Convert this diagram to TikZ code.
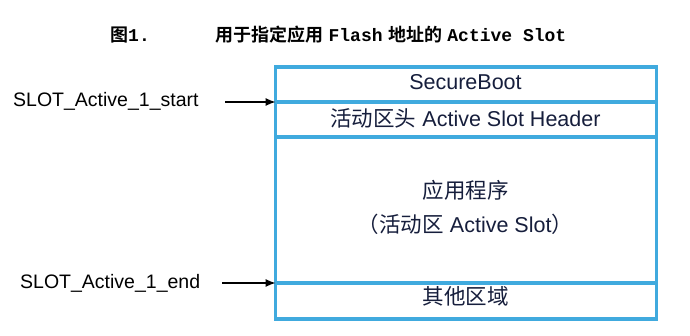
\documentclass[tikz,border=0pt]{standalone}
\usepackage{fontspec}
\setmainfont{Liberation Sans}
\newfontfamily\cjk{Noto Sans CJK SC}
\newfontfamily\cjkb{Noto Sans CJK SC}[BoldFont={* Bold}]
\newfontfamily\monob{Liberation Mono}
\usetikzlibrary{arrows.meta}
\definecolor{boxblue}{RGB}{64,170,222}
\definecolor{txtnavy}{RGB}{22,30,60}
\tikzset{
  part/.style={draw=boxblue, line width=3.2pt, minimum width=381pt, inner sep=0pt, outer sep=0pt, anchor=north west},
  boxtxt/.style={text=txtnavy, anchor=base, inner sep=0pt, font=\fontsize{21.5}{25}\selectfont},
  lbl/.style={anchor=base west, inner sep=0pt, font=\fontsize{19.5}{23}\selectfont},
  ptr/.style={-{Latex[length=10pt,width=8pt]}, line width=1.1pt},
  ttl/.style={anchor=base west, inner sep=0pt, font=\fontsize{18}{21}\selectfont\bfseries}
}
\begin{document}
\begin{tikzpicture}[x=1pt,y=-1pt]
\useasboundingbox (0,0) rectangle (690,336);
% title
\node[ttl] (t1) at (110,42) {\cjkb\bfseries 图\monob\bfseries 1.};
\node[ttl] (t2) at (215,42) {\cjkb\bfseries 用于指定应用\hspace{0.3em}\monob\bfseries Flash\hspace{0.3em}\cjkb\bfseries 地址的\hspace{0.3em}\monob\bfseries Active Slot};
% boxes
\node[part, minimum height=35pt] (secure) at (275.5,67) {};
\node[part, minimum height=35pt] (header) at (275.5,102) {};
\node[part, minimum height=146pt] (app) at (275.5,137) {};
\node[part, minimum height=36pt] (other) at (275.5,283) {};
% box texts
\node[boxtxt] (tsec) at (465.5,90) {SecureBoot};
\node[boxtxt] (thdr) at (465.5,126.5) {{\cjk 活动区头} Active Slot Header};
\node[boxtxt] (tapp1) at (465.5,199) {\cjk 应用程序};
\node[boxtxt] (tapp2) at (465.5,233) {{\cjk （活动区} Active Slot{\cjk ）}};
\node[boxtxt] (toth) at (465.5,305) {\cjk 其他区域};
% labels
\node[lbl] (ls) at (13,107) {SLOT\_Active\_1\_start};
\node[lbl] (le) at (20,288.5) {SLOT\_Active\_1\_end};
\coordinate (as) at (225,102);
\coordinate (ae) at (222,283);
\draw[ptr] (as) -- (secure.south west);
\draw[ptr] (ae) -- (other.north west);
\end{tikzpicture}
\end{document}
